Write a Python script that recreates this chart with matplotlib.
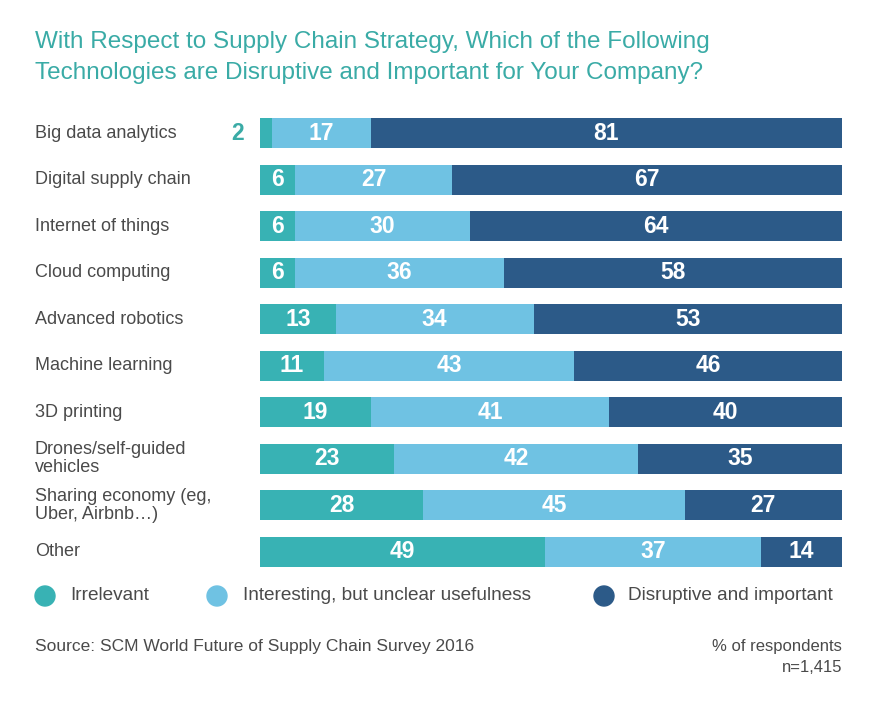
import matplotlib
matplotlib.use("Agg")
from matplotlib import pyplot as plt

categories = ["Big data analytics", "Digital supply chain", "Internet of things",
              "Cloud computing", "Advanced robotics", "Machine learning",
              "3D printing", "Drones/self-guided\nvehicles",
              "Sharing economy (eg,\nUber, Airbnb\u2026)", "Other"]
irrelevant = [2, 6, 6, 6, 13, 11, 19, 23, 28, 49]
interesting = [17, 27, 30, 36, 34, 43, 41, 42, 45, 37]
disruptive = [81, 67, 64, 58, 53, 46, 40, 35, 27, 14]
series_names = ["Irrelevant", "Interesting, but unclear usefulness", "Disruptive and important"]
colors = ["#38b2b4", "#6fc2e3", "#2c5a88"]
teal_text = "#3aaba6"
grey = "#4a4a4a"

plt.rcParams['font.family'] = ['Liberation Sans', 'DejaVu Sans']

fig = plt.figure(figsize=(8.76, 7.03), dpi=100)
ax = fig.add_axes([260 / 876, 1 - 575 / 703, 582 / 876, 465 / 703])

y = list(range(len(categories)))
left = [0] * len(categories)
for vals, col in zip([irrelevant, interesting, disruptive], colors):
    ax.barh(y, vals, left=left, height=0.645, color=col, linewidth=0)
    for i, v in enumerate(vals):
        if v >= 5:
            ax.text(left[i] + v / 2, i, str(v), ha="center", va="center",
                    color="white", fontsize=16.5, fontweight="bold")
        else:
            ax.text(-3.9, i, str(v), ha="center", va="center",
                    color=teal_text, fontsize=16.5, fontweight="bold")
    left = [a + b for a, b in zip(left, vals)]

ax.set_xlim(0, 100)
ax.set_ylim(len(categories) - 0.5, -0.5)
ax.axis("off")

for i, c in enumerate(categories):
    ax.annotate(c, xy=(35 / 876, i), xycoords=("figure fraction", "data"),
                ha="left", va="center", fontsize=13, color=grey, linespacing=1.1)

fig.text(35 / 876, 1 - 42 / 703, "With Respect to Supply Chain Strategy, Which of the Following",
         fontsize=17.5, color=teal_text, va="center")
fig.text(35 / 876, 1 - 73 / 703, "Technologies are Disruptive and Important for Your Company?",
         fontsize=17.5, color=teal_text, va="center")

marker_x = [45, 217, 604]
text_x = [70, 243, 628]
for mx, tx, name, col in zip(marker_x, text_x, series_names, colors):
    fig.patches.append(matplotlib.patches.Ellipse((mx / 876, 1 - 596 / 703), 20 / 876, 20 / 703,
                                                  transform=fig.transFigure, color=col))
    fig.text(tx / 876, 1 - 596 / 703, name, fontsize=13.7, color=grey, va="center")

fig.text(35 / 876, 1 - 647 / 703, "Source: SCM World Future of Supply Chain Survey 2016",
         fontsize=12.5, color=grey, va="center")
fig.text(842 / 876, 1 - 647 / 703, "% of respondents", fontsize=12, color=grey,
         va="center", ha="right")
fig.text(842 / 876, 1 - 668 / 703, "n=1,415", fontsize=12, color=grey,
         va="center", ha="right")

fig.savefig("out.png", dpi=100, facecolor="white")
